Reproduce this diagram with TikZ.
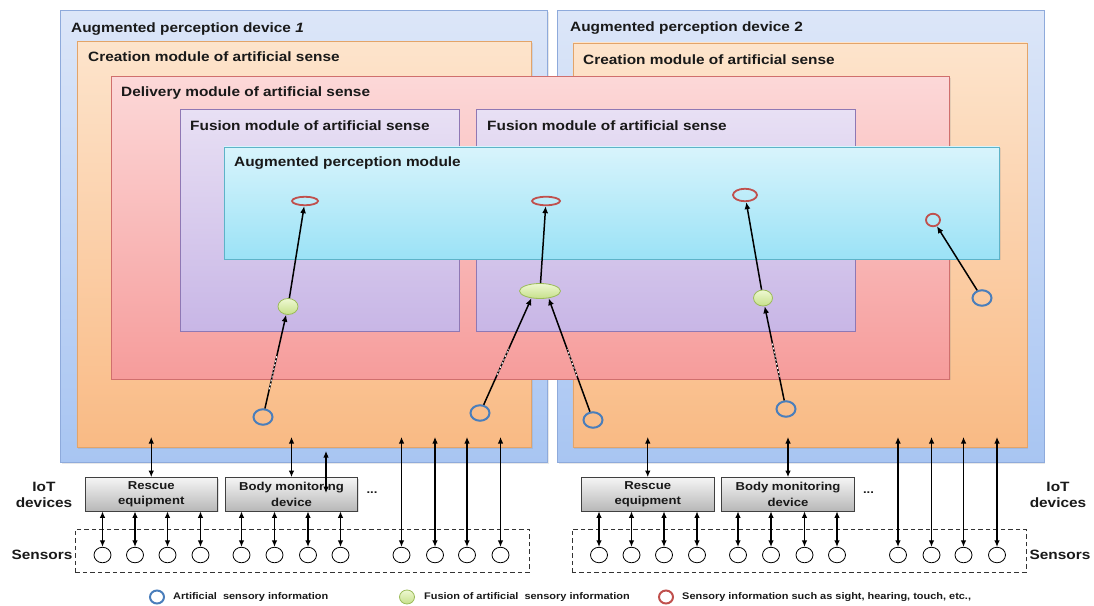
\documentclass[tikz,border=0pt]{standalone}
\usepackage{fontspec}
\setmainfont{Liberation Sans}[FakeStretch=1.14]
\usetikzlibrary{shapes.geometric,arrows.meta,calc,shadows}

\definecolor{devtop}{HTML}{DCE6F8}\definecolor{devbot}{HTML}{A8C5F2}\definecolor{devline}{HTML}{8EAADB}
\definecolor{cretop}{HTML}{FDE4CC}\definecolor{crebot}{HTML}{F9BA84}\definecolor{creline}{HTML}{E3A469}
\definecolor{deltop}{HTML}{FCD8D8}\definecolor{delbot}{HTML}{F69C9B}\definecolor{delline}{HTML}{D06F6D}
\definecolor{fustop}{HTML}{E8E0F4}\definecolor{fusbot}{HTML}{C8B6E6}\definecolor{fusline}{HTML}{8F78B4}
\definecolor{apmtop}{HTML}{D8F4FC}\definecolor{apmbot}{HTML}{9BE2F6}\definecolor{apmline}{HTML}{5DB3C8}
\definecolor{grntop}{HTML}{EEF8D2}\definecolor{grnbot}{HTML}{C6E08A}\definecolor{grnline}{HTML}{9BBB59}
\definecolor{redline}{HTML}{C0504D}\definecolor{bluline}{HTML}{4A7EBB}

\newcommand\ttlfont{\fontsize{13.5}{16}\selectfont\bfseries}
\newcommand\boxfont{\fontsize{11.5}{15.5}\selectfont\bfseries}
\newcommand\lgdfont{\fontsize{9.6}{11}\selectfont\bfseries}

\begin{document}
\begin{tikzpicture}[x=1pt, y=-1pt, text=black!90,
    box/.style={draw, anchor=north west, inner sep=0pt, line width=0.8pt,
                drop shadow={opacity=0.18, shadow xshift=1.2pt, shadow yshift=-1.2pt}},
    devbox/.style={box, draw=devline, top color=devtop, bottom color=devbot},
    crebox/.style={box, draw=creline, top color=cretop, bottom color=crebot},
    delbox/.style={box, draw=delline, top color=deltop, bottom color=delbot},
    fusbox/.style={box, draw=fusline, top color=fustop, bottom color=fusbot},
    apmbox/.style={box, draw=apmline, top color=apmtop, bottom color=apmbot},
    title/.style={anchor=base west, inner sep=0pt, font=\ttlfont},
    redell/.style={ellipse, draw=redline, line width=1.8pt, inner sep=0pt},
    grnell/.style={ellipse, draw=grnline, line width=0.8pt, top color=grntop, bottom color=grnbot, inner sep=0pt},
    bluell/.style={ellipse, draw=bluline, line width=2pt, inner sep=0pt, minimum width=19pt, minimum height=15.5pt},
    arr/.style={-{Latex[length=7pt,width=6pt]}, line width=1.5pt},
    wdash/.style={white, line width=0.9pt, dash pattern=on 2pt off 2pt},
    dbl/.style={{Latex[length=6.5pt,width=5.5pt]}-{Latex[length=6.5pt,width=5.5pt]}, line width=1.1pt},
    iot/.style={draw=black!75, line width=0.8pt, top color=black!4, bottom color=black!28,
                minimum width=132.5pt, minimum height=33.5pt, inner sep=0pt, align=center, font=\boxfont,
                drop shadow={opacity=0.25, shadow xshift=1.2pt, shadow yshift=-1.2pt}},
    sens/.style={ellipse, draw, fill=white, line width=0.8pt, minimum width=17pt, minimum height=15.5pt, inner sep=0pt},
    sensrow/.style={draw=black!80, line width=0.9pt, dash pattern=on 4.5pt off 3pt, anchor=north west,
                    minimum width=454pt, minimum height=43pt, inner sep=0pt},
    lbl/.style={align=center, inner sep=0pt, font=\ttlfont}]

\useasboundingbox (0,0) rectangle (1094,605);

\node[devbox, minimum width=487pt, minimum height=452pt] (dev1) at (60,10) {};
\node[devbox, minimum width=486.5pt, minimum height=452pt] (dev2) at (557,10) {};
\node[crebox, minimum width=454.5pt, minimum height=406pt] (cre1) at (76.5,41) {};
\node[crebox, minimum width=454pt, minimum height=404.5pt] (cre2) at (572.5,42.5) {};
\node[delbox, minimum width=838pt, minimum height=302.7pt] (del) at (111,76) {};
\node[fusbox, minimum width=278.6pt, minimum height=221.7pt] (fus1) at (180,109) {};
\node[fusbox, minimum width=378.5pt, minimum height=221.7pt] (fus2) at (476,109) {};
\node[apmbox, minimum width=775.5pt, minimum height=112.2pt] (apm) at (223.5,146.5) {};

\node[title] (dev1t) at (71,32.3) {Augmented perception device \textit{1}};
\node[title] (dev2t) at (570,31.7) {Augmented perception device 2};
\node[title] (cre1t) at (88,61.7) {Creation module of artificial sense};
\node[title] (cre2t) at (583,64) {Creation module of artificial sense};
\node[title] (delt) at (121,96.7) {Delivery module of artificial sense};
\node[title] (fus1t) at (190,130) {Fusion module of artificial sense};
\node[title] (fus2t) at (487,130) {Fusion module of artificial sense};
\node[title] (apmt) at (234,166.7) {Augmented perception module};

\node[redell, minimum width=26pt, minimum height=8.5pt] (r1) at (305,201) {};
\node[redell, minimum width=28pt, minimum height=8.5pt] (r2) at (546,201) {};
\node[redell, minimum width=24pt, minimum height=12.5pt] (r3) at (745,195) {};
\node[redell, minimum width=14pt, minimum height=12.5pt] (r4) at (933,220) {};
\node[grnell, minimum width=20pt, minimum height=16pt] (g1) at (288,306.5) {};
\node[grnell, minimum width=41pt, minimum height=15pt] (g2) at (540,291) {};
\node[grnell, minimum width=19pt, minimum height=16pt] (g3) at (763,298) {};
\node[bluell] (b1) at (263,417) {};
\node[bluell] (b2) at (480,413) {};
\node[bluell] (b3) at (593,420) {};
\node[bluell] (b4) at (786,409) {};
\node[bluell] (b5) at (982,298) {};

\draw[arr] (b1) -- (g1);
\draw[wdash] ($(b1)!0.25!(g1)$) -- ($(b1)!0.56!(g1)$);
\draw[arr] (g1) -- (r1);
\draw[arr] (b2) -- (g2.220);
\draw[wdash] ($(b2)!0.33!(g2.220)$) -- ($(b2)!0.56!(g2.220)$);
\draw[arr] (b3) -- (g2.-40);
\draw[wdash] ($(b3)!0.36!(g2.-40)$) -- ($(b3)!0.58!(g2.-40)$);
\draw[arr] (g2) -- (r2);
\draw[arr] (b4) -- (g3);
\draw[wdash] ($(b4)!0.29!(g3)$) -- ($(b4)!0.59!(g3)$);
\draw[arr] (g3) -- (r3);
\draw[arr] (b5) -- (r4);

\foreach \d/\dx in {A/0, B/496.5} {
  \begin{scope}[xshift=\dx pt]
    \node[sensrow] (row\d) at (75,529) {};
    \node[iot] (resc\d) at (151.25,494.25) {Rescue\\equipment};
    \node[iot] (body\d) at (291.5,494.25) {Body monitoring\\device};
    \node[font=\boxfont] (dots\d) at (372,493) {...};
    \coordinate (rtop\d) at (151.25,437);
    \coordinate (btop\d) at (291.5,437);
    \draw[dbl] (resc\d.north) -- (rtop\d);
    \draw[dbl] (body\d.north) -- (btop\d);
    \foreach \i/\x in {1/102.5,2/135,3/167.5,4/200.5,5/241.5,6/274.5,7/308,8/340.5,
                       9/401.5,10/435,11/467,12/500.5} {
      \node[sens] (s\d\i) at (\x,555) {};
      \coordinate (top\d\i) at (\x,437);
    }
    \foreach \i in {1,...,4} \draw[dbl] (s\d\i) -- (s\d\i |- resc\d.south);
    \foreach \i in {5,...,8} \draw[dbl] (s\d\i) -- (s\d\i |- body\d.south);
    \foreach \i in {9,...,12} \draw[dbl] (s\d\i) -- (top\d\i);
  \end{scope}
}
\coordinate (oddtop) at (326,451);
\coordinate (oddbot) at (326,493);
\draw[dbl] (oddtop) -- (oddbot);

\node[lbl] (iotA) at (44,494.5) {IoT\\devices};
\node[lbl] (iotB) at (1058,494.5) {IoT\\devices};
\node[lbl] (senA) at (42,555) {Sensors};
\node[lbl] (senB) at (1060,555) {Sensors};

\node[bluell, minimum width=14pt, minimum height=13pt] (lgb) at (157,597) {};
\node[anchor=west, inner sep=0pt, font=\lgdfont] (lgbt) at (173,597) {Artificial\ \ sensory information};
\node[grnell, minimum width=15pt, minimum height=14pt] (lgg) at (407,597) {};
\node[anchor=west, inner sep=0pt, font=\lgdfont] (lggt) at (424,597) {Fusion of artificial\ \ sensory information};
\node[redell, minimum width=14pt, minimum height=13pt, line width=2pt] (lgr) at (666,597) {};
\node[anchor=west, inner sep=0pt, font=\lgdfont] (lgrt) at (682,597) {Sensory information such as sight, hearing, touch, etc.,};
\end{tikzpicture}
\end{document}
